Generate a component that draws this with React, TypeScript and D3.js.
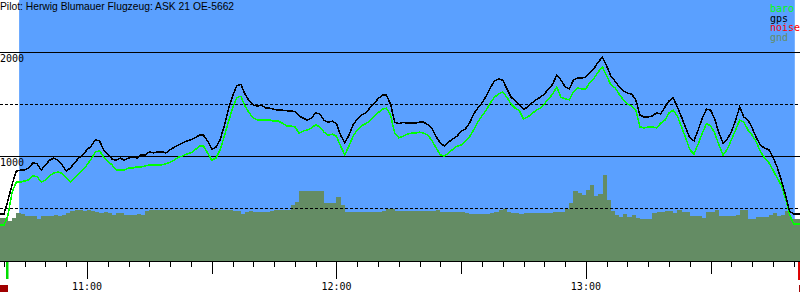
import React from "react";
import * as d3 from "d3";

const TITLE = "Pilot: Herwig Blumauer Flugzeug: ASK 21 OE-5662";
const FIRST_SAMPLE = "10:39:00"; // one sample per minute
const VIEW_START = "10:39:04";
const VIEW_END = "13:51:30";
const FLIGHT_START = "10:43:40";
const FLIGHT_END = "13:50:15";
const TAKEOFF_MARK = "10:40:45";
const LANDING_MARK = "13:51:16";

const gpsAlt = [
  440, 440, 575, 730, 855, 865, 865, 885, 935, 925,
  865, 915, 960, 980, 960, 915, 855, 885, 935, 980,
  1010, 1060, 1095, 1155, 1145, 1060, 1020, 970, 960, 980,
  960, 980, 990, 980, 1010, 1010, 1040, 1030, 1040, 1040,
  1030, 1060, 1085, 1105, 1125, 1145, 1155, 1175, 1200, 1200,
  1145, 1065, 1085, 1155, 1290, 1450, 1575, 1675, 1690, 1595,
  1530, 1490, 1480, 1490, 1460, 1460, 1450, 1440, 1440, 1435,
  1435, 1425, 1385, 1365, 1345, 1365, 1415, 1405, 1345, 1325,
  1335, 1310, 1200, 1125, 1200, 1300, 1355, 1395, 1415, 1460,
  1500, 1550, 1585, 1585, 1500, 1325, 1310, 1325, 1315, 1315,
  1315, 1325, 1325, 1300, 1260, 1185, 1125, 1095, 1135, 1165,
  1190, 1240, 1260, 1315, 1405, 1460, 1510, 1575, 1655, 1720,
  1740, 1730, 1645, 1565, 1530, 1490, 1450, 1470, 1510, 1540,
  1565, 1595, 1645, 1690, 1780, 1730, 1665, 1645, 1730, 1750,
  1750, 1760, 1800, 1845, 1905, 1950, 1865, 1770, 1720, 1665,
  1625, 1605, 1595, 1540, 1395, 1375, 1375, 1385, 1415, 1405,
  1470, 1530, 1560, 1470, 1375, 1270, 1175, 1145, 1250, 1365,
  1450, 1440, 1355, 1220, 1125, 1165, 1230, 1345, 1470, 1375,
  1345, 1270, 1175, 1105, 1075, 1060, 990, 895, 770, 625,
  470, 440, 440, 440,
];

const baroAlt = [
  335, 335, 435, 655, 750, 750, 760, 770, 810, 800,
  750, 770, 810, 835, 845, 835, 790, 750, 790, 825,
  865, 915, 970, 1040, 1050, 990, 950, 915, 865, 865,
  865, 885, 885, 895, 895, 905, 915, 915, 915, 915,
  925, 940, 960, 990, 1000, 1020, 1030, 1060, 1095, 1095,
  1030, 960, 980, 1060, 1185, 1325, 1460, 1560, 1575, 1480,
  1415, 1365, 1345, 1345, 1345, 1345, 1335, 1335, 1315, 1290,
  1290, 1280, 1220, 1240, 1250, 1270, 1300, 1280, 1230, 1200,
  1210, 1190, 1095, 1010, 1095, 1190, 1250, 1290, 1310, 1335,
  1375, 1415, 1450, 1460, 1395, 1220, 1175, 1190, 1210, 1220,
  1220, 1230, 1220, 1200, 1145, 1075, 1010, 1000, 1030, 1065,
  1095, 1105, 1145, 1185, 1250, 1325, 1385, 1440, 1510, 1565,
  1595, 1615, 1565, 1500, 1460, 1435, 1355, 1375, 1405, 1440,
  1460, 1500, 1550, 1595, 1665, 1565, 1550, 1540, 1615, 1655,
  1645, 1645, 1710, 1750, 1810, 1855, 1770, 1685, 1655, 1595,
  1540, 1500, 1480, 1440, 1280, 1270, 1280, 1280, 1270, 1315,
  1345, 1415, 1440, 1385, 1280, 1175, 1060, 1020, 1115, 1220,
  1310, 1290, 1220, 1105, 1010, 1065, 1155, 1250, 1345, 1325,
  1250, 1200, 1135, 1040, 980, 935, 865, 790, 720, 595,
  435, 345, 345, 345,
];

const gndAlt = [
  405, 405, 375, 405, 450, 440, 425, 425, 425, 395,
  425, 425, 425, 435, 425, 435, 450, 470, 480, 480,
  470, 480, 470, 460, 450, 460, 450, 435, 450, 450,
  435, 435, 435, 440, 435, 470, 480, 480, 480, 480,
  480, 480, 480, 480, 480, 480, 480, 480, 480, 480,
  480, 490, 480, 480, 480, 480, 470, 470, 440, 460,
  470, 460, 460, 460, 460, 470, 480, 480, 480, 480,
  530, 560, 665, 665, 665, 665, 665, 665, 550, 550,
  550, 605, 530, 460, 460, 460, 460, 460, 460, 460,
  460, 460, 470, 490, 490, 470, 470, 470, 470, 470,
  470, 470, 470, 470, 470, 480, 460, 460, 460, 460,
  460, 460, 450, 440, 440, 440, 440, 440, 450, 460,
  480, 490, 460, 450, 450, 440, 450, 450, 450, 450,
  450, 450, 450, 460, 460, 460, 490, 550, 665, 645,
  625, 675, 720, 615, 635, 815, 575, 470, 435, 415,
  440, 415, 435, 405, 395, 395, 395, 450, 460, 460,
  470, 470, 450, 480, 460, 460, 425, 425, 425, 405,
  460, 460, 480, 425, 425, 425, 425, 435, 480, 480,
  395, 395, 415, 415, 415, 435, 450, 425, 435, 470,
  395, 395, 395, 395,
];

const ALT_MAX = 2500;
const gridSolid = [1000, 2000];
const gridDashed = [500, 1500];
const yLabels = [1000, 2000];
const legendNames = ["baro", "gps", "noise", "gnd"];
const legendColors = ["#00ff00", "#000000", "#ff0000", "#648c64"];

const W = 800;
const H = 300;
const PLOT_BOTTOM = 260;
const AXIS_Y = 261;

export default function App() {
  const parse = d3.timeParse("%H:%M:%S");
  const t0 = parse(FIRST_SAMPLE) as Date;
  const times = gpsAlt.map((_, i) => d3.timeMinute.offset(t0, i));

  const x = d3
    .scaleTime()
    .domain([parse(VIEW_START) as Date, parse(VIEW_END) as Date])
    .range([0, W]);
  const y = d3.scaleLinear().domain([0, ALT_MAX]).range([PLOT_BOTTOM, 0]);

  const mkLine = (vals: number[]) =>
    d3
      .line<number>()
      .x((_, i) => x(times[i]))
      .y((d) => y(d))
      .curve(d3.curveLinear)(vals) as string;
  const gpsLine = mkLine(gpsAlt);
  const baroLine = mkLine(baroAlt);
  const gndArea = d3
    .area<number>()
    .x((_, i) => x(times[i]))
    .y0(AXIS_Y)
    .y1((d) => y(d))
    .curve(d3.curveStepAfter)(gndAlt) as string;

  const ticks = d3.timeMinute
    .every(5)!
    .range(parse(VIEW_START) as Date, parse(VIEW_END) as Date);
  const fmt = d3.timeFormat("%H:%M");

  const fx0 = x(parse(FLIGHT_START) as Date);
  const fx1 = x(parse(FLIGHT_END) as Date);
  const tox = x(parse(TAKEOFF_MARK) as Date);
  const ldx = x(parse(LANDING_MARK) as Date);

  const mono = "'DejaVu Sans Mono', monospace";

  return (
    <svg
      width={W}
      height={H}
      style={{ position: "absolute", left: 0, top: 0, background: "#fff" }}
    >
      <rect x={0} y={0} width={W} height={H} fill="#ffffff" />
      <rect x={fx0} y={0} width={fx1 - fx0} height={AXIS_Y} fill="rgb(90,160,255)" />
      <path d={gndArea} fill="#648c64" shapeRendering="crispEdges" />
      {gridSolid.map((v) => (
        <line
          key={"s" + v}
          x1={0}
          x2={W}
          y1={Math.round(y(v)) + 0.5}
          y2={Math.round(y(v)) + 0.5}
          stroke="#000"
          strokeWidth={1}
          shapeRendering="crispEdges"
        />
      ))}
      {gridDashed.map((v) => (
        <line
          key={"d" + v}
          x1={0}
          x2={W}
          y1={Math.round(y(v)) + 0.5}
          y2={Math.round(y(v)) + 0.5}
          stroke="#000"
          strokeWidth={1}
          strokeDasharray="3,2"
          shapeRendering="crispEdges"
        />
      ))}
      <path d={baroLine} fill="none" stroke="#00ff00" strokeWidth={1.5} shapeRendering="crispEdges" />
      <path d={gpsLine} fill="none" stroke="#000" strokeWidth={1.5} shapeRendering="crispEdges" />
      {yLabels.map((v) => (
        <text
          key={"yl" + v}
          x={0}
          y={y(v) + 10}
          fontFamily={mono}
          fontSize={10}
          fill="#000"
        >
          {v}
        </text>
      ))}
      <text x={0} y={10} fontFamily="'Liberation Sans', Arial, sans-serif" fontSize={10.3} fill="#000">
        {TITLE}
      </text>
      {legendNames.map((n, i) => (
        <text
          key={n}
          x={770}
          y={12 + i * 9.5}
          fontFamily={mono}
          fontSize={10}
          fill={legendColors[i]}
        >
          {n}
        </text>
      ))}
      <line x1={0} x2={W} y1={AXIS_Y + 0.5} y2={AXIS_Y + 0.5} stroke="#000" shapeRendering="crispEdges" />
      {ticks.map((t) => {
        const m = t.getMinutes();
        const len = m === 0 ? 18 : m === 30 ? 13 : 6;
        const px = Math.round(x(t)) + 0.5;
        return (
          <line
            key={"t" + t.getTime()}
            x1={px}
            x2={px}
            y1={AXIS_Y}
            y2={AXIS_Y + len}
            stroke="#000"
            shapeRendering="crispEdges"
          />
        );
      })}
      {ticks
        .filter((t) => t.getMinutes() === 0)
        .map((t) => (
          <text
            key={"tl" + t.getTime()}
            x={x(t)}
            y={290}
            textAnchor="middle"
            fontFamily={mono}
            fontSize={10}
            fill="#000"
          >
            {fmt(t)}
          </text>
        ))}
      <rect x={tox - 1} y={AXIS_Y + 1} width={2.5} height={17} fill="#00dd00" />
      <rect x={0} y={285} width={8} height={7} fill="#a00000" />
      <rect x={ldx - 1} y={AXIS_Y + 1} width={2.5} height={18} fill="#dd0000" />
      <rect x={ldx} y={285} width={1.5} height={7} fill="#a00000" />
    </svg>
  );
}
